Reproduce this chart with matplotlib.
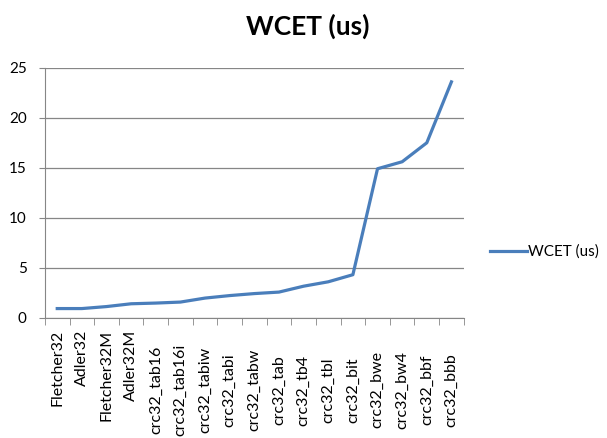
import matplotlib
matplotlib.use("Agg")
import matplotlib.pyplot as plt
import matplotlib.transforms as mtransforms
import numpy as np

names = ["Fletcher32", "Adler32", "Fletcher32M", "Adler32M", "crc32_tab16",
         "crc32_tab16i", "crc32_tabiw", "crc32_tabi", "crc32_tabw", "crc32_tab",
         "crc32_tb4", "crc32_tbl", "crc32_bit", "crc32_bwe", "crc32_bw4",
         "crc32_bbf", "crc32_bbb"]
wcet = [0.9, 0.9, 1.1, 1.38, 1.45, 1.55, 1.95, 2.2, 2.4, 2.55,
        3.14, 3.58, 4.29, 14.9, 15.6, 17.5, 23.6]
yticks = [0, 5, 10, 15, 20, 25]

plt.rcParams["font.family"] = ["Lato", "DejaVu Sans"]
fig = plt.figure(figsize=(6.07, 4.38), dpi=100)
ax = fig.add_axes([0.074, 0.275, 0.69, 0.57])

x = np.arange(len(names))
line, = ax.plot(x, wcet, color="#4a7ebb", lw=2.3, label="WCET (us)")

ax.set_xlim(-0.5, len(names) - 0.5)
ax.set_ylim(0, 25)
ax.set_yticks(yticks)
ax.yaxis.grid(True, color="#868686", lw=0.9)
ax.set_axisbelow(True)
ax.tick_params(axis="y", length=4, color="#868686", labelsize=11, pad=9)

# category labels: Excel-style vertical text below the axis
ax.set_xticks(x)
ax.set_xticklabels([])
ax.tick_params(axis="x", which="major", length=0)
ax.set_xticks(np.arange(-0.5, len(names), 1.0), minor=True)
ax.tick_params(axis="x", which="minor", length=5, color="#868686", direction="out")
trans = mtransforms.blended_transform_factory(ax.transData, fig.transFigure)
for i, name in enumerate(names):
    if i < 4:
        ax.text(i, 0.2466, name, rotation=90, ha="center", va="top",
                fontsize=11.5, transform=trans, clip_on=False)
    else:
        ax.text(i, 0.1096, name, rotation=90, ha="center", va="center",
                fontsize=11.5, transform=trans, clip_on=False)

for s in ["top", "right"]:
    ax.spines[s].set_visible(False)
for s in ["left", "bottom"]:
    ax.spines[s].set_color("#868686")

fig.text(0.507, 0.94, "WCET (us)", ha="center", va="center",
         fontsize=19, fontweight="bold")
fig.legend(handles=[line], loc="center left", bbox_to_anchor=(0.785, 0.425),
           frameon=False, fontsize=11, handlelength=2.4, handletextpad=0.1)

fig.savefig("out.png", dpi=100)
